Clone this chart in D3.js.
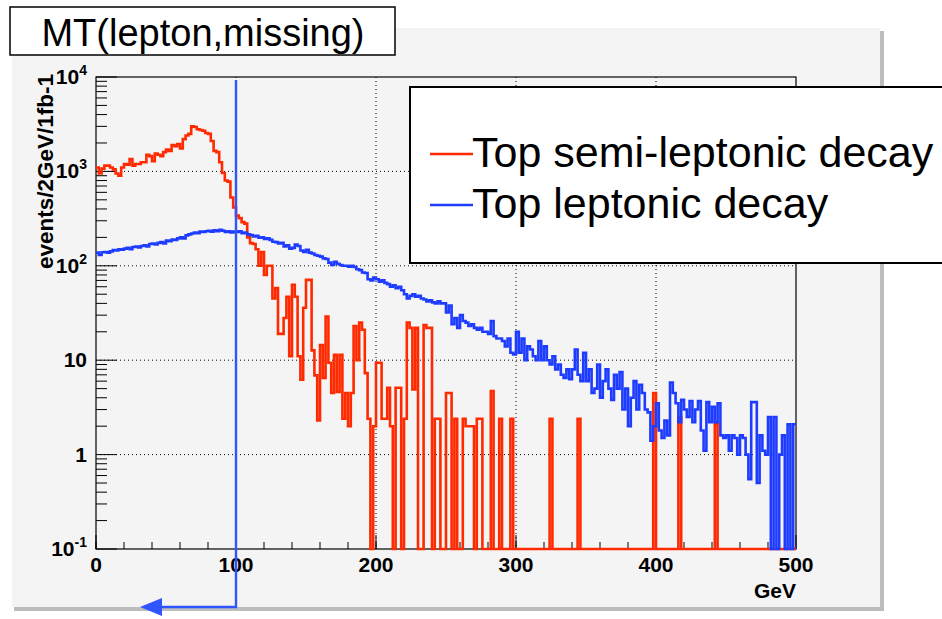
<!DOCTYPE html>
<html><head><meta charset="utf-8">
<script src="https://cdn.jsdelivr.net/npm/d3@7"></script>
<style>html,body{margin:0;padding:0;background:#fff;} svg{display:block;font-family:"Liberation Sans",Arial,Helvetica,sans-serif;}</style>
</head><body><svg id="c" width="942" height="619"></svg>
<script>
const titleText = "MT(lepton,missing)";
const xLabel = "GeV";
const yLabel = "events/2GeV/1fb-1";
const seriesNames = ["Top semi-leptonic decay", "Top leptonic decay"];
const binWidth = 2;
const xTicks = [0, 100, 200, 300, 400, 500];
const xTickLabels = ["0", "100", "200", "300", "400", "500"];
const yTicks = [0.1, 1, 10, 100, 1000, 10000];
const yTickLabels = [["10", "-1"], ["1", ""], ["10", ""], ["10", "2"], ["10", "3"], ["10", "4"]];
const cutValue = 100;

// Top semi-leptonic decay, 250 bins of 2 GeV
const semiLeptonic = [
 1100,950,1070,1150,1150,1100,1050,950,900,1100,
 1200,1180,1350,1150,1200,1200,1250,1250,1500,1450,
 1280,1550,1500,1450,1600,1700,1650,1900,1850,1950,
 1750,2200,2400,2500,3000,2950,2800,2750,2700,2550,
 2500,2100,1650,1600,1250,960,800,780,530,415,
 340,320,290,280,200,174,170,150,100,140,
 80,100,100,45,58,19,19,28,47,11,
 63,47,11,6.2,36,71,71,12.7,6.9,2.3,
 14.5,6.5,29,9.4,4.5,11.4,4.6,11.4,2.4,4.5,
 2,4.5,23,10,25,21,7.3,2.4,0,2,
 9.4,9.4,2.4,2.4,5.1,2,0,5.1,5.1,0,
 2.4,25,22,4.9,22,0,0,23.5,22,22,
 0,2.4,2.4,0,0,4.5,4.5,0,2.4,0,
 0,2.4,2,2,2,0,2.4,2.4,0,0,
 0,4.7,0,0,2.4,0,0,0,2.4,0,
 0,0,0,0,0,0,0,0,0,0,
 0,0,2.4,0,0,0,0,0,0,0,
 0,0,2.4,0,0,0,0,0,0,0,
 0,0,0,0,0,0,0,0,0,0,
 0,0,0,0,0,0,0,0,0,4.5,
 0,0,0,0,0,0,0,0,2.5,0,
 0,0,0,0,0,0,0,0,0,0,
 0,2.1,0,0,0,0,0,0,0,0,
 0,0,0,0,0,0,0,0,0,0,
 0,0,0,0,0,0,0,0,0,0
];

// Top leptonic decay, 250 bins of 2 GeV
const leptonic = [
 138,130,139,140,138,142,147,145,150,148,
 152,155,150,158,160,156,162,165,160,170,
 172,168,175,178,172,185,182,190,188,195,
 200,195,210,215,220,225,222,230,228,232,
 235,230,238,232,240,235,228,232,225,230,
 228,232,222,225,215,212,205,208,198,200,
 192,195,188,180,178,172,175,160,165,152,
 155,168,162,145,140,148,138,135,130,128,
 125,120,118,108,102,110,105,102,100,100,
 98,100,97,92,90,85,84,72,70,75,
 72,68,70,66,64,60,62,58,60,55,
 50,45,48,50,47,48,45,44,42,43,
 41,40,42,40,40,32,38,24,28,22,
 30,26,25,23,24,22,21,22,20,20,
 19,26,18,17,17,16,14,17,12,11.5,
 20,12,17,10,14,13,11,10,16,10,
 14,10,9,11,8,9,7,6.5,8,6.3,
 8,13,7,6,12,6,8,4.5,5,9,
 4,6,8,5,3.8,7,5,7.5,3,5,
 2,4,6,3,5.5,4.5,3,2.8,1.4,2,
 3.5,1.8,1.5,2.3,1.6,5.8,4.5,3.5,2.2,3.8,
 3,2.5,3.7,2.2,3,3.7,1.8,1.1,3.6,2.2,
 3.2,2.2,3.5,1.6,1.5,1.6,1.1,1.6,1.5,1.0,
 1.6,1.5,1.0,0.55,3.6,3.6,0.5,1.6,1.1,1.0,
 2.5,0,2.5,0,1.0,1.6,0,2.1,0,2.1
];

const RED = "#ff2a00", BLUE = "#1e3cff", ARROW = "#2f55ff";
const svg = d3.select("#c");

// canvas panel
svg.append("rect").attr("x", 14).attr("y", 31).attr("width", 870).attr("height", 580).attr("fill", "#bdbdbd");
svg.append("rect").attr("x", 12).attr("y", 28).attr("width", 868).attr("height", 579).attr("fill", "#f4f4f4");

const x = d3.scaleLinear().domain([0, 500]).range([96, 796]);
const y = d3.scaleLog().domain([0.1, 10000]).range([549, 77]).clamp(true);

// grid
const grid = svg.append("g").attr("stroke", "#000").attr("stroke-width", 1).attr("stroke-dasharray", "1,3");
xTicks.slice(1, -1).forEach(t => grid.append("line").attr("x1", x(t)).attr("x2", x(t)).attr("y1", 77).attr("y2", 549));
yTicks.slice(1, -1).forEach(t => grid.append("line").attr("x1", 96).attr("x2", 796).attr("y1", y(t)).attr("y2", y(t)));

// ticks
const tk = svg.append("g").attr("stroke", "#000").attr("stroke-width", 1);
yTicks.forEach(t => tk.append("line").attr("x1", 96).attr("x2", 117).attr("y1", y(t)).attr("y2", y(t)));
yTicks.slice(0, -1).forEach(t => d3.range(2, 10).forEach(k => {
  tk.append("line").attr("x1", 96).attr("x2", 107).attr("y1", y(t * k)).attr("y2", y(t * k));
}));
xTicks.forEach(t => tk.append("line").attr("x1", x(t)).attr("x2", x(t)).attr("y1", 549).attr("y2", 535));
d3.range(0, 500, 20).forEach(t => tk.append("line").attr("x1", x(t)).attr("x2", x(t)).attr("y1", 549).attr("y2", 542));

// frame
svg.append("rect").attr("x", 96).attr("y", 77).attr("width", 700).attr("height", 472)
  .attr("fill", "none").attr("stroke", "#000").attr("stroke-width", 1.2);

// tick labels
xTicks.forEach((t, i) => svg.append("text").attr("x", x(t)).attr("y", 572).attr("text-anchor", "middle")
  .attr("font-size", 21).attr("font-weight", "bold").text(xTickLabels[i]));
yTicks.forEach((t, i) => {
  const tx = svg.append("text").attr("x", 87).attr("y", y(t) + 7).attr("text-anchor", "end")
    .attr("font-size", 21).attr("font-weight", "bold");
  tx.append("tspan").text(yTickLabels[i][0]);
  if (yTickLabels[i][1]) tx.append("tspan").attr("dy", -9).attr("font-size", 14).text(yTickLabels[i][1]);
});

// axis titles
svg.append("text").attr("x", 796).attr("y", 598).attr("text-anchor", "end")
  .attr("font-size", 21).attr("font-weight", "bold").text(xLabel);
svg.append("text").attr("transform", "translate(53,74) rotate(-90)").attr("text-anchor", "end")
  .attr("font-size", 22.5).attr("font-weight", "bold").text(yLabel);

// histograms
function histPath(vals) {
  const pts = vals.map((v, i) => [i * binWidth, v]);
  pts.push([vals.length * binWidth, vals[vals.length - 1]]);
  return d3.line().x(d => x(d[0])).y(d => y(d[1])).curve(d3.curveStepAfter)(pts);
}
svg.append("path").attr("d", histPath(semiLeptonic)).attr("fill", "none").attr("stroke", RED).attr("stroke-width", 2.6);
svg.append("path").attr("d", histPath(leptonic)).attr("fill", "none").attr("stroke", BLUE).attr("stroke-width", 2.6);

// cut annotation
const cx = x(cutValue);
svg.append("path").attr("d", `M${cx},80 L${cx},607 L160,607`).attr("fill", "none").attr("stroke", ARROW).attr("stroke-width", 2.4);
svg.append("path").attr("d", `M140,607 L162,598 L162,616 Z`).attr("fill", ARROW);

// title box
svg.append("rect").attr("x", 10).attr("y", 7).attr("width", 385).attr("height", 48)
  .attr("fill", "#fff").attr("stroke", "#000").attr("stroke-width", 1.5);
svg.append("text").attr("x", 203).attr("y", 46).attr("text-anchor", "middle").attr("font-size", 38).text(titleText);

// legend
svg.append("rect").attr("x", 410).attr("y", 87).attr("width", 560).attr("height", 176)
  .attr("fill", "#fff").attr("stroke", "#000").attr("stroke-width", 2);
[RED, BLUE].forEach((c, i) => {
  const ly = 154 + i * 51;
  svg.append("line").attr("x1", 430).attr("x2", 473).attr("y1", ly).attr("y2", ly).attr("stroke", c).attr("stroke-width", 2.6);
  svg.append("text").attr("x", 472).attr("y", 167 + i * 51).attr("font-size", 43).text(seriesNames[i]);
});
</script></body></html>
